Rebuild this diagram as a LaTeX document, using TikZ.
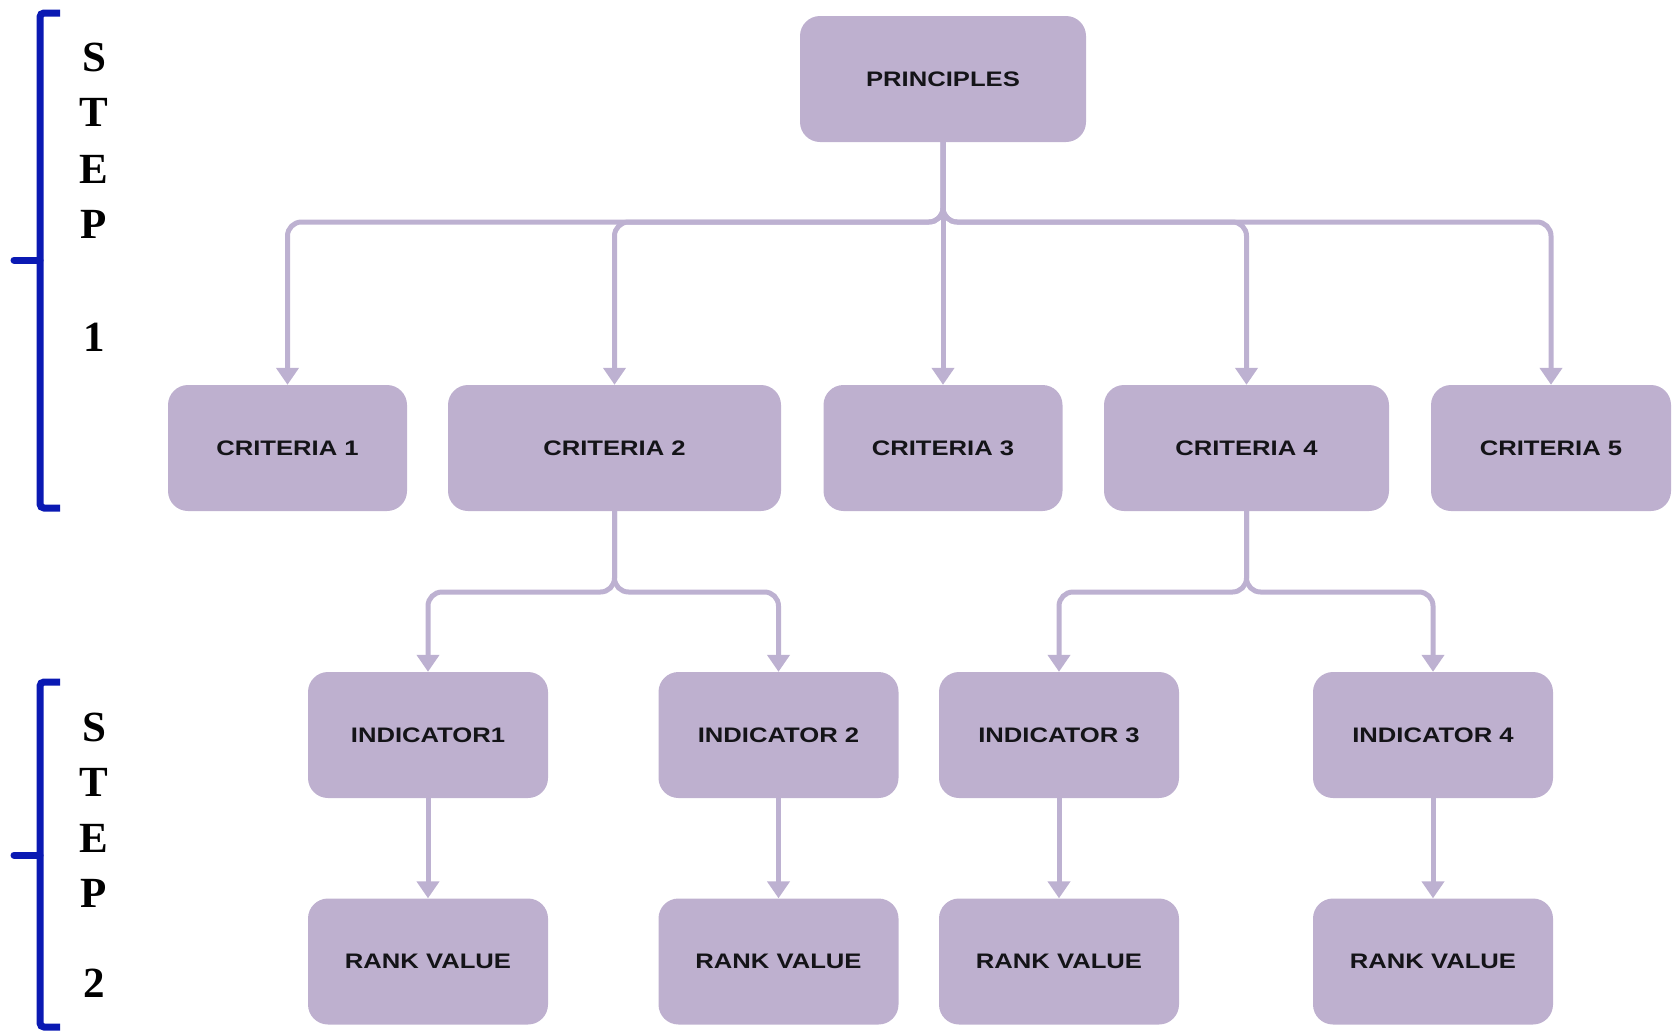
\documentclass[tikz,border=0pt]{standalone}
\usepackage{fontspec}
\setmainfont{Liberation Serif}
\newfontfamily\boxfont{Liberation Sans}[FakeStretch=1.22]
\usetikzlibrary{arrows.meta}
\definecolor{boxfill}{HTML}{BEB0CF}
\definecolor{linkcol}{HTML}{BDB1D1}
\definecolor{bracecol}{HTML}{0A19B3}
\definecolor{labeltext}{HTML}{141418}

\begin{document}
\begin{tikzpicture}[x=1pt,y=-1pt,
  card/.style={draw=none, fill=boxfill, rounded corners=20pt, minimum height=126pt,
    inner sep=0pt, text=labeltext, font=\boxfont\bfseries\fontsize{21}{21}\selectfont},
  link/.style={draw=linkcol, line width=5pt, rounded corners=14pt,
    -{Triangle[width=22pt,length=17pt]}},
  brace/.style={draw=bracecol, line width=7pt, rounded corners=4pt},
  steplabel/.style={inner sep=0pt, font=\bfseries\fontsize{43}{43}\selectfont}]

\useasboundingbox (0,0) rectangle (1677,1031);

% top level
\node[card, minimum width=286pt] (pr) at (943,79) {PRINCIPLES};

% criteria row
\node[card, minimum width=239pt] (c1) at (287.5,448) {CRITERIA 1};
\node[card, minimum width=333pt] (c2) at (614.5,448) {CRITERIA 2};
\node[card, minimum width=239pt] (c3) at (943,448)   {CRITERIA 3};
\node[card, minimum width=285pt] (c4) at (1246.5,448) {CRITERIA 4};
\node[card, minimum width=240pt] (c5) at (1551,448)  {CRITERIA 5};

% indicator row
\node[card, minimum width=240pt] (i1) at (428,735)    {INDICATOR1};
\node[card, minimum width=240pt] (i2) at (778.5,735)  {INDICATOR 2};
\node[card, minimum width=240pt] (i3) at (1059,735)   {INDICATOR 3};
\node[card, minimum width=240pt] (i4) at (1433,735)   {INDICATOR 4};

% rank row
\node[card, minimum width=240pt] (r1) at (428,961.5)   {RANK VALUE};
\node[card, minimum width=240pt] (r2) at (778.5,961.5) {RANK VALUE};
\node[card, minimum width=240pt] (r3) at (1059,961.5)  {RANK VALUE};
\node[card, minimum width=240pt] (r4) at (1433,961.5)  {RANK VALUE};

% bus levels
\coordinate (bus1) at (0,222);
\coordinate (bus2) at (0,592);

% principles to criteria
\foreach \c in {c1,c2,c4,c5}
  \draw[link] (pr.south) |- (\c.north |- bus1) -- (\c.north);
\draw[link] (pr.south) -- (c3.north);

% criteria to indicators
\foreach \i in {i1,i2}
  \draw[link] (c2.south) |- (\i.north |- bus2) -- (\i.north);
\foreach \i in {i3,i4}
  \draw[link] (c4.south) |- (\i.north |- bus2) -- (\i.north);

% indicators to rank values
\foreach \k in {1,2,3,4}
  \draw[link] (i\k.south) -- (r\k.north);

% step brackets
\draw[brace] (60,13) -- (40,13) -- (40,508) -- (60,508);
\draw[bracecol, line width=7pt, line cap=round] (40,260) -- (14,260);
\draw[brace] (60,682) -- (40,682) -- (40,1027) -- (60,1027);
\draw[bracecol, line width=7pt, line cap=round] (40,855) -- (14,855);

% step labels
\node[steplabel] (s1a) at (94,57)  {S};
\node[steplabel] (s1b) at (94,112) {T};
\node[steplabel] (s1c) at (94,169) {E};
\node[steplabel] (s1d) at (94,224) {P};
\node[steplabel] (s1e) at (94,337) {1};

\node[steplabel] (s2a) at (94,727) {S};
\node[steplabel] (s2b) at (94,782) {T};
\node[steplabel] (s2c) at (94,838) {E};
\node[steplabel] (s2d) at (94,893) {P};
\node[steplabel] (s2e) at (94,983) {2};
\end{tikzpicture}
\end{document}
